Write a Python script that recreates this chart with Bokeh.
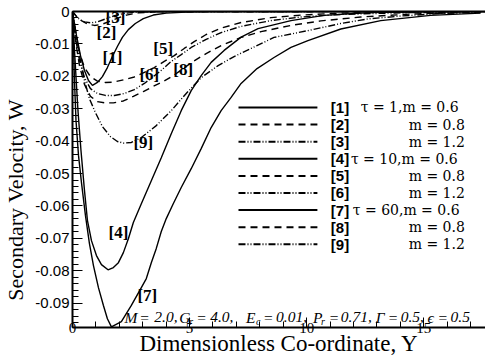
from bokeh.plotting import figure
from bokeh.models import (Range1d, LinearAxis, SingleIntervalTicker, FixedTicker,
                          CustomJSTickFormatter, Label)
from bokeh.embed import file_html
from bokeh.resources import INLINE

# ---------------- secondary velocity profiles W(Y) ----------------
# tau = 1
y1 = [0, 0.170, 0.341, 0.511, 0.682, 0.852, 1.065, 1.278, 1.491, 1.704, 1.917, 2.130,
      2.386, 2.684, 3.025, 3.451, 4.005, 4.857, 5.922, 17.64]
w1 = [0, -0.0074, -0.0136, -0.0182, -0.0213, -0.0228, -0.0219, -0.0201, -0.0173, -0.0139,
      -0.0108, -0.0080, -0.0056, -0.0037, -0.0022, -0.0011, -0.0005, -0.0002, 0, 0]

y2 = [0, 0.170, 0.383, 0.639, 0.937, 1.236, 1.534, 1.875, 2.301, 2.812, 3.579, 4.431, 17.64]
w2 = [0, -0.0015, -0.0028, -0.0039, -0.0043, -0.0040, -0.0032, -0.0022, -0.0011, -0.0004,
      -0.0001, 0, 0]

y3 = [0, 0.128, 0.298, 0.511, 0.767, 1.065, 1.406, 1.747, 2.173, 2.727, 3.579, 17.64]
w3 = [0, -0.0012, -0.0025, -0.0032, -0.0035, -0.0032, -0.0023, -0.0014, -0.0006, -0.0002,
      -0.0001, 0]

# tau = 10
y4 = [0, 0.085, 0.170, 0.234, 0.362, 0.511, 0.639, 0.810, 1.023, 1.236, 1.517, 1.747,
      1.960, 2.173, 2.386, 2.599, 2.940, 3.366, 3.792, 4.218, 4.644, 5.070, 5.496, 5.922,
      6.476, 7.201, 7.925, 9.331, 10.737, 12.740, 14.870, 17.64]
w4 = [0, -0.0120, -0.0228, -0.0306, -0.0429, -0.0552, -0.0645, -0.0707, -0.0753, -0.0781,
      -0.0797, -0.0790, -0.0775, -0.0744, -0.0701, -0.0651, -0.0593, -0.0522, -0.0451,
      -0.0377, -0.0306, -0.0244, -0.0198, -0.0157, -0.0120, -0.0079, -0.0053, -0.0028,
      -0.0012, -0.0003, -0.0001, 0]

y5 = [0, 0.128, 0.298, 0.511, 0.767, 1.065, 1.406, 1.747, 2.173, 2.642, 3.068, 3.494,
      3.920, 4.346, 4.772, 5.198, 5.709, 6.349, 7.201, 8.479, 9.757, 11.461, 14.018, 16.574]
w5 = [0, -0.0065, -0.0127, -0.0173, -0.0201, -0.0215, -0.0219, -0.0218, -0.0211, -0.0202,
      -0.0188, -0.0173, -0.0154, -0.0136, -0.0114, -0.0093, -0.0071, -0.0051, -0.0034,
      -0.0019, -0.0011, -0.0005, -0.0001, 0]

y6 = [0, 0.128, 0.298, 0.511, 0.767, 1.065, 1.406, 1.790, 2.216, 2.642, 3.068, 3.451,
      3.835, 4.218, 4.644, 5.070, 5.709, 6.349, 7.201, 8.479, 9.757, 11.461, 14.018, 16.574]
w6 = [0, -0.0083, -0.0151, -0.0204, -0.0238, -0.0253, -0.0259, -0.0259, -0.0253, -0.0241,
      -0.0222, -0.0201, -0.0179, -0.0154, -0.0133, -0.0111, -0.0086, -0.0065, -0.0046,
      -0.0028, -0.0017, -0.0009, -0.0004, -0.0001]

# tau = 60
y7 = [0, 0.043, 0.085, 0.149, 0.256, 0.383, 0.554, 0.724, 0.895, 1.108, 1.321, 1.491,
      1.662, 2.088, 2.514, 2.940, 3.153, 3.366, 3.579, 3.792, 4.005, 4.303, 4.644, 5.070,
      5.496, 5.922, 6.349, 6.775, 7.201, 7.882, 8.607, 9.331, 10.055, 11.461, 13.166,
      15.296, 17.427]
w7 = [0, -0.0105, -0.0213, -0.0336, -0.0444, -0.0528, -0.0630, -0.0716, -0.0784, -0.0852,
      -0.0907, -0.0948, -0.0973, -0.0957, -0.0907, -0.0852, -0.0824, -0.0775, -0.0731,
      -0.0679, -0.0639, -0.0593, -0.0543, -0.0485, -0.0423, -0.0358, -0.0306, -0.0265,
      -0.0222, -0.0176, -0.0142, -0.0111, -0.0090, -0.0054, -0.0028, -0.0012, -0.0005]

y8 = [0, 0.128, 0.298, 0.511, 0.767, 1.065, 1.406, 1.747, 2.173, 2.599, 3.025, 3.451,
      3.877, 4.303, 4.730, 5.155, 5.709, 6.349, 7.201, 8.053, 9.331, 10.609, 12.314,
      14.444, 16.574, 17.427]
w8 = [0, -0.0090, -0.0167, -0.0225, -0.0262, -0.0278, -0.0282, -0.0282, -0.0276, -0.0262,
      -0.0247, -0.0231, -0.0216, -0.0198, -0.0176, -0.0154, -0.0130, -0.0105, -0.0080,
      -0.0062, -0.0043, -0.0029, -0.0017, -0.0008, -0.0003, -0.0002]

y9 = [0, 0.128, 0.298, 0.511, 0.724, 0.980, 1.278, 1.619, 1.917, 2.173, 2.514, 2.940,
      3.579, 4.218, 4.857, 5.496, 6.221, 6.902, 7.627, 8.607, 10.055, 11.461, 12.612,
      14.018, 15.722, 17.427]
w9 = [0, -0.0059, -0.0136, -0.0213, -0.0269, -0.0312, -0.0355, -0.0386, -0.0401, -0.0406,
      -0.0404, -0.0389, -0.0352, -0.0306, -0.0253, -0.0204, -0.0167, -0.0139, -0.0114,
      -0.0080, -0.0059, -0.0037, -0.0023, -0.0014, -0.0006, -0.0003]

curve_ids = ["[1]", "[2]", "[3]", "[4]", "[5]", "[6]", "[7]", "[8]", "[9]"]
legend_texts = ["τ = 1,m = 0.6", "m = 0.8", "m = 1.2",
                "τ = 10,m = 0.6", "m = 0.8", "m = 1.2",
                "τ = 60,m = 0.6", "m = 0.8", "m = 1.2"]
# parameter line as tokens, so subscripts can be set smaller and lower
params_text = ["M", "=", "2.0,", "G", "r", "=", "4.0,", "E", "c", "=", "0.01,",
               "P", "r", "=", "0.71,", "Γ", "=", "0.5,", "ϵ", "=", "0.5"]
params_sub = [False, False, False, False, True, False, False, False, True, False, False,
              False, True, False, False, False, False, False, False, False, False]

x_title = "Dimensionless Co-ordinate, Y"
y_title = "Secondary Velocity, W"

series = [(y1, w1), (y2, w2), (y3, w3), (y4, w4), (y5, w5),
          (y6, w6), (y7, w7), (y8, w8), (y9, w9)]

# ---------------- styling ----------------
DASH = "7 5"
DASHDOT = "7 2 1 2 1 2"
styles = ["solid", DASH, DASHDOT] * 3

# in-plot curve tags (data coordinates)
tag_pos = [(1.704, -0.0142), (1.449, -0.0065), (1.832, -0.0020),
           (1.960, -0.0682), (3.877, -0.0113), (3.281, -0.0194),
           (3.196, -0.0877), (4.729, -0.0179), (3.025, -0.0404)]

p = figure(width=485, height=360, output_backend="svg", toolbar_location=None,
           x_range=Range1d(0, 17.64), y_range=Range1d(-0.0975, 0),
           min_border_left=71, min_border_right=0, min_border_top=11,
           min_border_bottom=33, x_axis_type=None, y_axis_type=None)
p.outline_line_color = None
p.grid.visible = False
p.background_fill_color = "white"
p.border_fill_color = "white"

for (yy, ww), dash in zip(series, styles):
    p.line(yy, ww, line_color="black", line_width=1.4, line_dash=dash)

# axes
xaxis = LinearAxis(ticker=SingleIntervalTicker(interval=5, num_minor_ticks=5))
yaxis = LinearAxis(ticker=SingleIntervalTicker(interval=0.01, num_minor_ticks=5),
                   formatter=CustomJSTickFormatter(
                       code="return Math.abs(tick) < 1e-9 ? '0' : tick.toFixed(2);"))
for ax in (xaxis, yaxis):
    ax.axis_line_width = 2
    ax.axis_line_color = "black"
    ax.major_tick_in = 10
    ax.major_tick_out = 0
    ax.minor_tick_in = 6
    ax.minor_tick_out = 0
    ax.major_tick_line_color = "black"
    ax.minor_tick_line_color = "black"
    ax.major_label_text_color = "black"
    ax.axis_label_text_font = "Liberation Serif"
    ax.axis_label_text_font_style = "normal"
    ax.axis_label_text_color = "black"

xaxis.major_label_text_font = "Liberation Serif"
xaxis.major_label_text_font_size = "15px"
xaxis.major_label_standoff = -5
xaxis.axis_label = x_title
xaxis.axis_label_text_font_size = "23px"
xaxis.axis_label_standoff = -5

yaxis.major_label_text_font = "Liberation Sans"
yaxis.major_label_text_font_size = "15px"
yaxis.major_label_standoff = 3
# trailing no-break spaces push the centred title toward the lower part of the axis
yaxis.axis_label = y_title + "\u00a0" * 11
yaxis.axis_label_text_font_size = "22px"
yaxis.axis_label_standoff = 4

p.add_layout(xaxis, "below")
p.add_layout(yaxis, "left")

top = LinearAxis(ticker=FixedTicker(ticks=[]), axis_line_width=2,
                 major_tick_in=0, major_tick_out=0, minor_tick_in=0, minor_tick_out=0,
                 major_label_text_font_size="0px")
p.add_layout(top, "above")

# curve tags
for name, (tx, ty) in zip(curve_ids, tag_pos):
    p.add_layout(Label(x=tx, y=ty, text=name, text_font="Liberation Serif",
                       text_font_size="17px", text_font_style="bold",
                       text_align="center", text_baseline="middle", text_color="black"))

# legend (key lines + two text columns)
row0 = -0.0296
row_step = 0.00528
legend_text_x = [12.31, 14.36, 14.36, 11.89, 14.36, 14.36, 11.97, 14.36, 14.36]
for i, (name, txt, dash, tx) in enumerate(zip(curve_ids, legend_texts, styles,
                                               legend_text_x)):
    ry = row0 - i * row_step
    p.line([7.09, 10.46], [ry, ry], line_color="black", line_width=2, line_dash=dash)
    p.add_layout(Label(x=11.035, y=ry, text=name, text_font="Liberation Sans",
                       text_font_size="15px", text_font_style="bold",
                       text_align="left", text_baseline="middle", text_color="black"))
    p.add_layout(Label(x=tx, y=ry, text=txt, text_font="DejaVu Serif",
                       text_font_size="14px", text_align="left",
                       text_baseline="middle", text_color="black"))

# parameter line
piece_x = [2.216, 2.855, 3.494, 4.559, 4.985, 5.283, 5.880, 7.414, 7.840, 8.138, 8.692,
           10.268, 10.609, 10.950, 11.461, 12.953, 13.464, 14.018, 15.168, 15.594, 16.148]
for txt, sub, px in zip(params_text, params_sub, piece_x):
    p.add_layout(Label(x=px, y=-0.0957 if sub else -0.0944, text=txt,
                       text_font="Liberation Serif", text_font_style="italic",
                       text_font_size="10px" if sub else "15.5px",
                       text_align="left", text_baseline="middle", text_color="black"))

open("out.html", "w").write(file_html(p, INLINE))
